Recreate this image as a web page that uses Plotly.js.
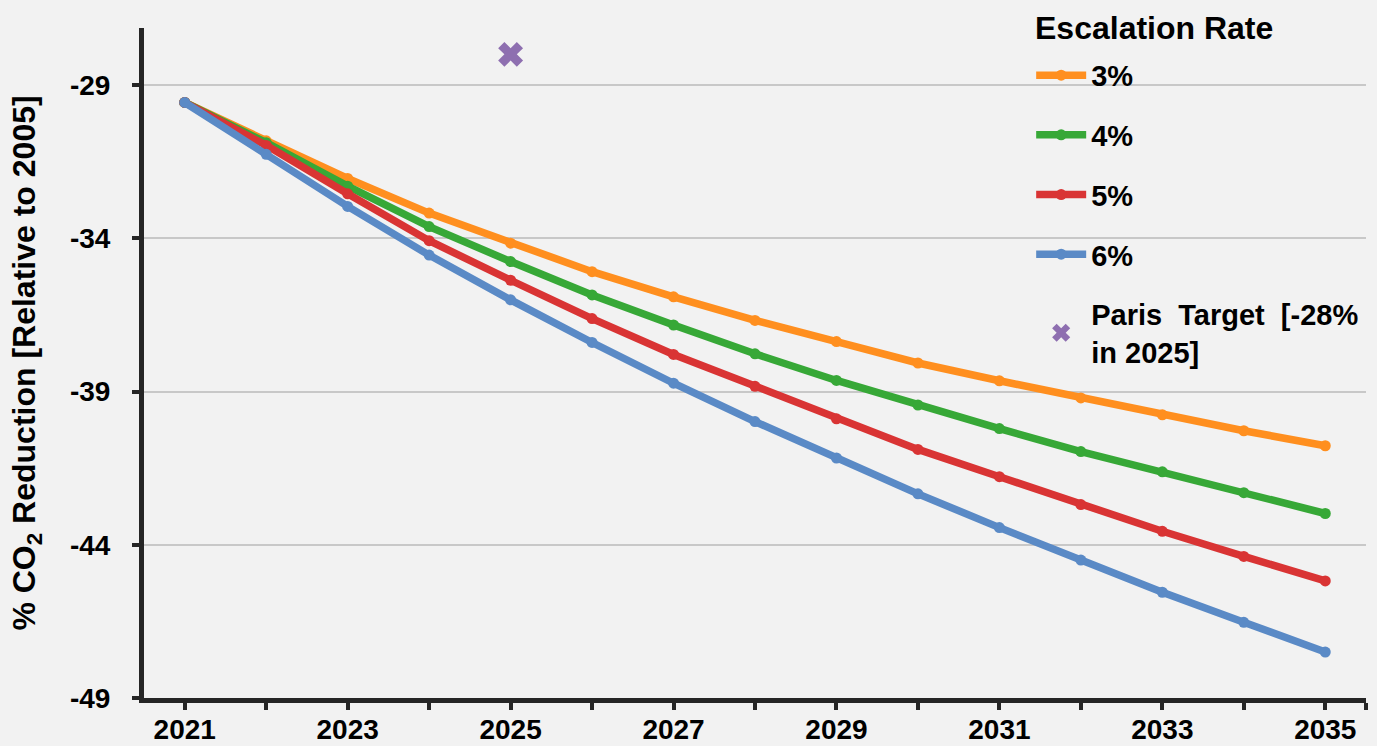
<!DOCTYPE html>
<html>
<head>
<meta charset="utf-8">
<script src="https://cdn.plot.ly/plotly-3.0.1.min.js"></script>
<style>html,body{margin:0;padding:0;background:#f2f2f2;}#chart{width:1377px;height:746px;}</style>
</head>
<body>
<div id="chart"></div>
<script>
const years = [2021,2022,2023,2024,2025,2026,2027,2028,2029,2030,2031,2032,2033,2034,2035];
const rate3 = [-29.57,-30.82,-32.05,-33.18,-34.16,-35.09,-35.91,-36.68,-37.37,-38.07,-38.65,-39.21,-39.76,-40.28,-40.77];
const rate4 = [-29.57,-30.88,-32.30,-33.62,-34.76,-35.85,-36.83,-37.77,-38.64,-39.44,-40.21,-40.96,-41.62,-42.30,-42.98];
const rate5 = [-29.57,-30.97,-32.55,-34.08,-35.37,-36.62,-37.79,-38.83,-39.89,-40.89,-41.78,-42.69,-43.56,-44.38,-45.18];
const rate6 = [-29.57,-31.26,-32.96,-34.55,-36.01,-37.40,-38.73,-39.98,-41.17,-42.34,-43.44,-44.50,-45.55,-46.53,-47.50];
const seriesNames = ['3%','4%','5%','6%'];
const seriesColors = ['#ff8f1f','#37a837','#d93434','#5a8ac6'];
const parisYear = [2025];
const parisValue = [-28];
const parisLabel = 'Paris&nbsp; Target&nbsp; [-28%<br>in 2025]';
const legendTitle = 'Escalation Rate';
const xLabelYears = [2021,2023,2025,2027,2029,2031,2033,2035];
const xMinorTicks = [2022,2024,2026,2028,2030,2032,2034,2035.5];
const yTicks = [-29,-34,-39,-44,-49];
const yTickText = ['-29','-34','-39','-44','-49'];

const allSeries = [rate3, rate4, rate5, rate6];
const traces = allSeries.map((vals, i) => ({
  x: years, y: vals, type: 'scatter', mode: 'lines+markers',
  name: seriesNames[i], legendgroup: 'g' + i,
  line: {color: seriesColors[i], width: 7.5},
  marker: {color: seriesColors[i], size: 11}
}));
traces.push({
  x: parisYear, y: parisValue, type: 'scatter', mode: 'markers',
  name: parisLabel, legendgroup: 'g4',
  marker: {symbol: 'x', color: '#8e6fb0', size: 22, line: {width: 0}}
});

const fam = 'Liberation Sans, Arial, sans-serif';
const layout = {
  width: 1377, height: 746,
  paper_bgcolor: '#f2f2f2', plot_bgcolor: '#f2f2f2',
  margin: {l: 144, r: 11, t: 28, b: 48},
  font: {family: fam, color: '#000'},
  showlegend: true,
  legend: {
    x: 0.726, xanchor: 'left', y: 0.9675, yanchor: 'top',
    bgcolor: 'rgba(0,0,0,0)', tracegroupgap: 19,
    font: {family: fam, size: 29, color: '#000', weight: 'bold'},
    itemwidth: 50
  },
  annotations: [{
    text: '<b>' + legendTitle + '</b>', xref: 'paper', yref: 'paper',
    x: 0.7275, xanchor: 'left', y: 1.0, yanchor: 'middle', showarrow: false,
    font: {family: fam, size: 32, color: '#000'}
  }],
  xaxis: {
    range: [2020.5, 2035.5],
    tickmode: 'array', tickvals: xLabelYears, ticktext: xLabelYears.map(String),
    ticks: 'outside', ticklen: 7, tickwidth: 4, tickcolor: '#262626',
    ticklabelstandoff: -5,
    minor: {tickmode: 'array', tickvals: xMinorTicks, ticks: 'outside', ticklen: 7, tickwidth: 4, tickcolor: '#262626', showgrid: false},
    showline: true, linecolor: '#262626', linewidth: 5,
    showgrid: false, zeroline: false,
    tickfont: {family: fam, size: 28, weight: 'bold', color: '#000'}
  },
  yaxis: {
    range: [-49, -27.14],
    tickmode: 'array', tickvals: yTicks, ticktext: yTickText,
    ticks: 'outside', ticklen: 7, tickwidth: 4, tickcolor: '#262626',
    ticklabelstandoff: 16,
    showline: true, linecolor: '#262626', linewidth: 5,
    showgrid: true, gridcolor: '#c8c8c8', gridwidth: 1.5,
    zeroline: false,
    tickfont: {family: fam, size: 28, weight: 'bold', color: '#000'},
    title: {text: '<b>% CO<sub>2</sub> Reduction [Relative to 2005]</b>', font: {family: fam, size: 32, color: '#000'}, standoff: 26}
  }
};
Plotly.newPlot('chart', traces, layout, {displayModeBar: false});
</script>
</body>
</html>
